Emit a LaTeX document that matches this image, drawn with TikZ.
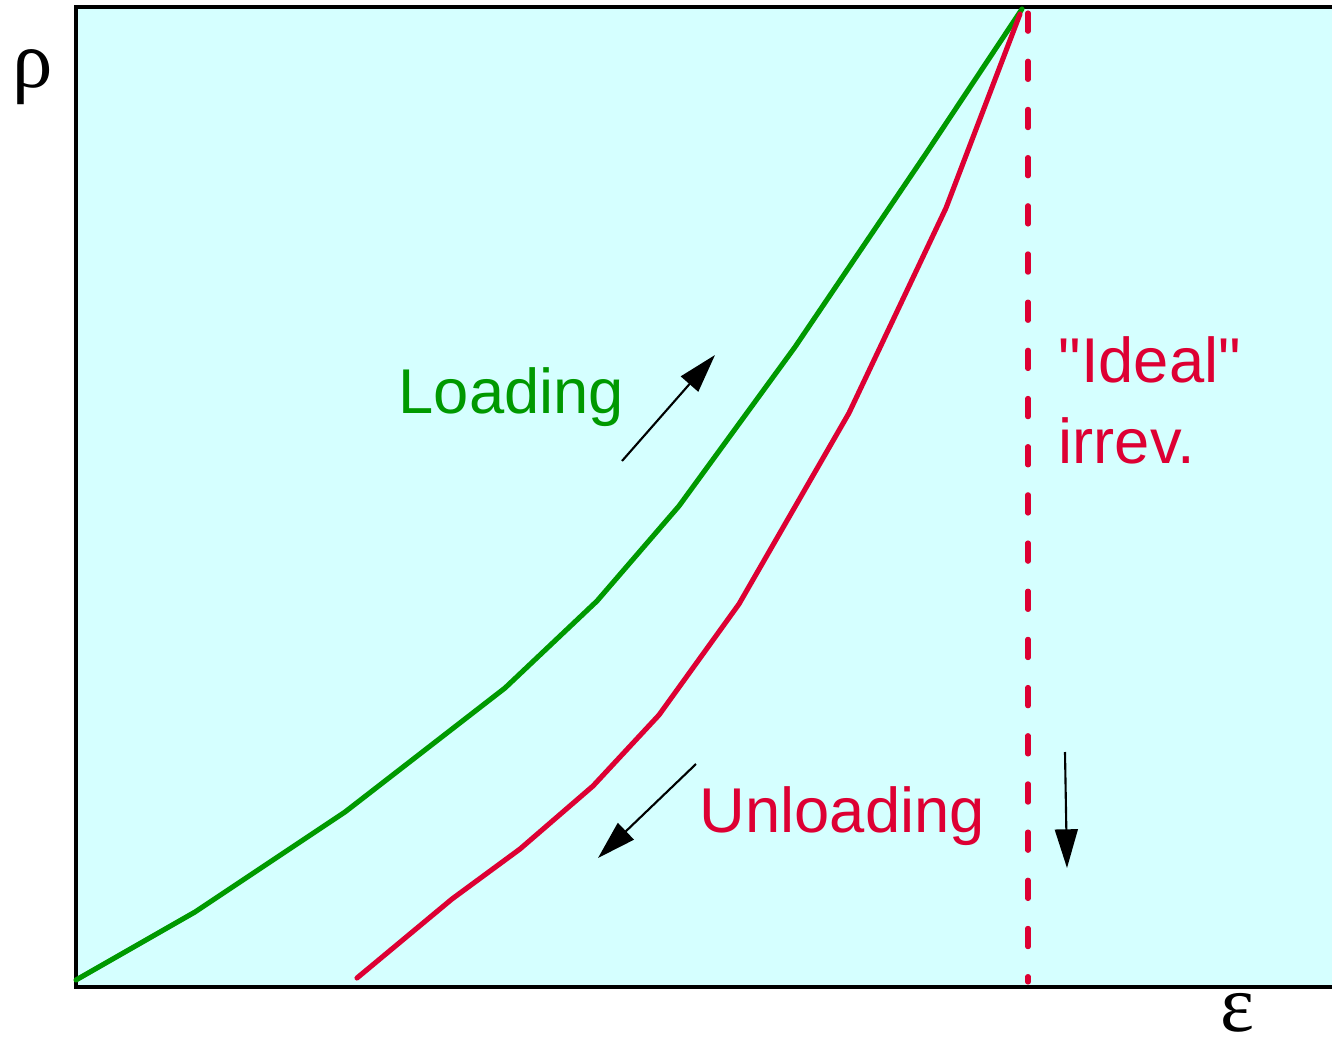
\documentclass[tikz,border=0pt]{standalone}
\usepackage{fontspec}
\setmainfont{Liberation Sans}
\newfontfamily\greekserif{Liberation Serif}
\usetikzlibrary{arrows.meta}
\newcommand{\straightquote}{\XeTeXglyph\XeTeXcharglyph"22\relax}
\definecolor{bgcyan}{RGB}{213,255,255}
\definecolor{loadgreen}{RGB}{0,153,0}
\definecolor{unloadred}{RGB}{221,0,51}
\tikzset{
  curve/.style={line width=1.45pt, line cap=round, line join=round},
  thinarrow/.style={line width=0.6pt, -{Triangle[length=11pt,width=6.5pt]}},
  lbl/.style={font=\fontsize{18}{21}\selectfont, inner sep=0pt, anchor=base west},
  axlbl/.style={font=\greekserif\fontsize{23}{26}\selectfont, inner sep=0pt, anchor=base}
}
\begin{document}
\begin{tikzpicture}[x=0.01cm,y=-0.01cm]
\useasboundingbox (0,0) rectangle (1332,1045);
\fill[bgcyan] (76,7) rectangle (1332,987);
\draw[line width=1.2pt] (1332,7) -- (76,7) -- (76,987) -- (1332,987);
% loading curve
\draw[curve, loadgreen] (76,980) -- (195,912) -- (345,812) -- (505,688) -- (597,601) -- (679,506) -- (795,347) -- (925,155) -- (1022,9);
% unloading curve
\draw[curve, unloadred] (357,978) -- (452,899) -- (520,849) -- (593,786) -- (659,715) -- (739,604) -- (849,413) -- (946,208) -- (1020,14);
% ideal irreversible
\draw[line width=1.45pt, unloadred, line cap=round, dash pattern=on 5.2pt off 8.5pt] (1028,13) -- (1028,982);
% arrows
\coordinate (la1) at (622,461); \coordinate (la2) at (715,355);
\draw[thinarrow] (la1) -- (la2);
\coordinate (ua1) at (696,764); \coordinate (ua2) at (598,858);
\draw[thinarrow] (ua1) -- (ua2);
\coordinate (ia1) at (1065,752); \coordinate (ia2) at (1067,868);
\draw[thinarrow] (ia1) -- (ia2);
% labels
\node[lbl, text=loadgreen] (load) at (398,413) {Loading};
\node[lbl, text=unloadred] (unload) at (699,832) {Unloading};
\node[lbl, text=unloadred] (ideal) at (1058,382) {\straightquote Ideal\straightquote};
\node[lbl, text=unloadred] (irrev) at (1058,463) {irrev.};
\node[axlbl] (rho) at (33,87) {ρ};
\node[axlbl] (eps) at (1237,1031) {ε};
\end{tikzpicture}
\end{document}
